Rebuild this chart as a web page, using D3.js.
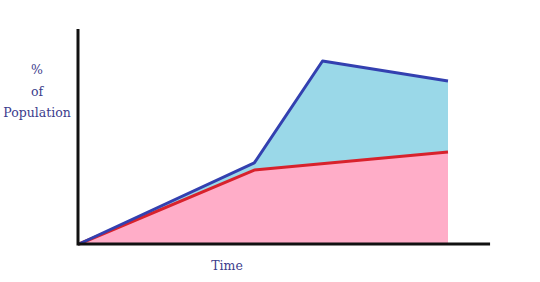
<!DOCTYPE html>
<html>
<head>
<meta charset="utf-8">
<script src="https://cdn.jsdelivr.net/npm/d3@7"></script>
<style>
  body { margin: 0; background: #fff; }
</style>
</head>
<body>
<div id="chart"></div>
<script>
// values (time in arbitrary units, share in %)
const blueTime = [0, 4.75, 6.6, 10];
const blueShare = [0, 37.7, 85.1, 75.8];
const redTime = [0, 4.75, 10];
const redShare = [0, 34.4, 42.8];
const yLabelLines = ["%", "of", "Population"];
const xLabel = "Time";

const width = 540, height = 282;
const svg = d3.select('#chart').append('svg')
    .attr('width', width)
    .attr('height', height);

const x = d3.scaleLinear().domain([0, 10]).range([79, 448]);
const y = d3.scaleLinear().domain([0, 100]).range([244, 29]);

const blue = blueTime.map((t, i) => ({ t: t, v: blueShare[i] }));
const red = redTime.map((t, i) => ({ t: t, v: redShare[i] }));

const line = d3.line().x(d => x(d.t)).y(d => y(d.v));

// pink area under red line
const redArea = d3.area()
    .x(d => x(d.t))
    .y0(y(0))
    .y1(d => y(d.v));
svg.append('path')
    .attr('d', redArea(red))
    .attr('fill', '#ffadc8');

// light blue band between red and blue lines
const band = blue.concat(red.slice().reverse());
svg.append('path')
    .attr('d', line(band) + 'Z')
    .attr('fill', '#9ad8e8');

svg.append('path')
    .attr('d', line(red))
    .attr('fill', 'none')
    .attr('stroke', '#d8222c')
    .attr('stroke-width', 3)
    .attr('stroke-linejoin', 'round');

svg.append('path')
    .attr('d', line(blue))
    .attr('fill', 'none')
    .attr('stroke', '#3340b0')
    .attr('stroke-width', 3)
    .attr('stroke-linejoin', 'round');

// axes (plain lines, no ticks)
svg.append('line')
    .attr('x1', 78).attr('x2', 78)
    .attr('y1', y(100)).attr('y2', y(0) + 1.5)
    .attr('stroke', '#111').attr('stroke-width', 3);
svg.append('line')
    .attr('x1', 78).attr('x2', x(11.14))
    .attr('y1', y(0)).attr('y2', y(0))
    .attr('stroke', '#111').attr('stroke-width', 3);

svg.selectAll('.ylab')
    .data(yLabelLines)
    .enter()
    .append('text')
    .attr('class', 'ylab')
    .attr('x', 37)
    .attr('y', (d, i) => 74 + i * 21.5)
    .attr('text-anchor', 'middle')
    .style('font-family', '"DejaVu Serif"')
    .style('font-size', '12.5px')
    .style('fill', '#3c3c8c')
    .text(d => d);

svg.append('text')
    .attr('x', 227)
    .attr('y', 270)
    .attr('text-anchor', 'middle')
    .style('font-family', '"DejaVu Serif"')
    .style('font-size', '12.5px')
    .style('fill', '#3c3c8c')
    .text(xLabel);
</script>
</body>
</html>
